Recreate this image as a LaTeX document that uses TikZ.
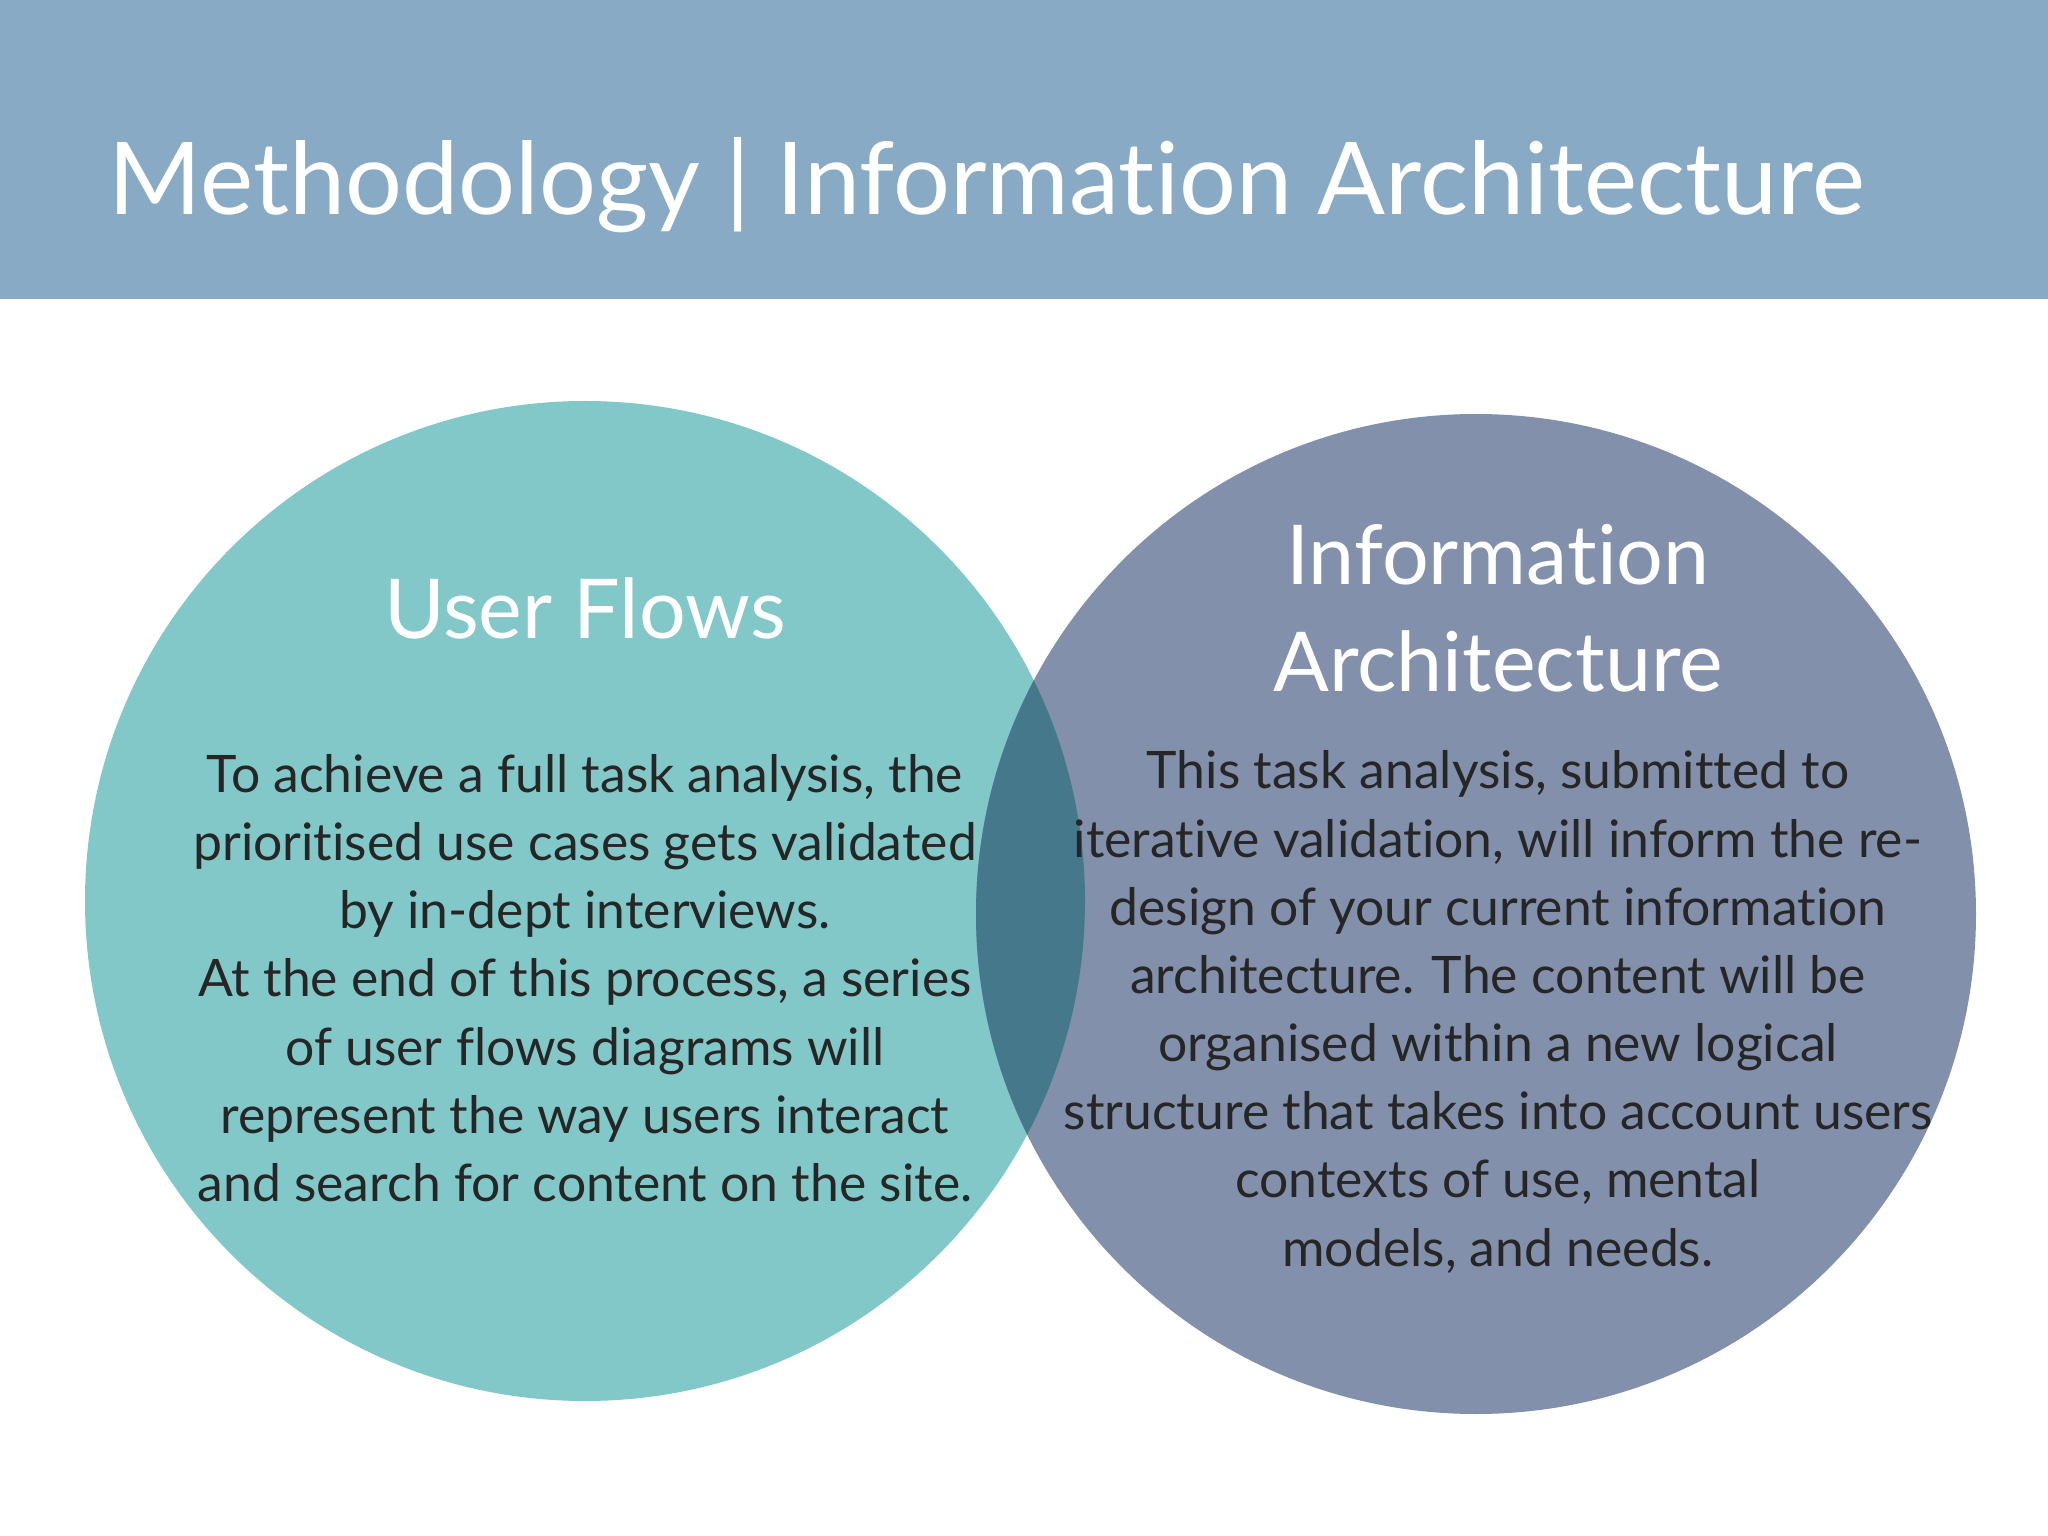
\documentclass[tikz,border=0pt]{standalone}
\usepackage{fontspec}
\setmainfont{Lato}[Ligatures={NoCommon}]
\definecolor{hdr}{HTML}{89AAC4}
\definecolor{cl}{HTML}{82C8C8}
\definecolor{cr}{HTML}{8290AB}
\definecolor{co}{HTML}{46788C}
\begin{document}
\begin{tikzpicture}[
  body/.style={text=black!85,align=center,font=\fontsize{14.7}{19.4}\selectfont},
  head/.style={text=white,align=center,font=\fontsize{23.5}{30.5}\selectfont}]
\useasboundingbox (0,0) rectangle (20.48,-15.36);
\fill[white] (0,0) rectangle (20.48,-15.36);
\fill[hdr] (0,0) rectangle (20.48,-2.99);
\node[anchor=base west,text=white,font=\fontsize{28.6}{36}\selectfont,inner sep=0] (title) at (1.08,-2.15) {Methodology | Information Architecture};
\coordinate (lc) at (5.85,-9.01);
\coordinate (rc) at (14.76,-9.14);
\fill[cl] (lc) circle (5.0);
\fill[cr] (rc) circle (5.0);
\begin{scope}
\clip (lc) circle (5.0);
\fill[co] (rc) circle (5.0);
\end{scope}
\node[head] (lt) at (5.85,-6.08) {User Flows};
\node[head] (rt) at (14.98,-6.08) {Information\\Architecture};
\node[body] (lb) at (5.85,-9.78) {To achieve a full task analysis, the\\prioritised use cases gets validated\\by in-dept interviews.\\At the end of this process, a series\\of user flows diagrams will\\represent the way users interact\\and search for content on the site.};
\node[body] (rb) at (14.98,-10.12) {This task analysis, submitted to\\iterative validation, will inform the re-\\design of your current information\\architecture. The content will be\\organised within a new logical\\structure that takes into account users\\contexts of use, mental\\models, and needs.};
\end{tikzpicture}
\end{document}
